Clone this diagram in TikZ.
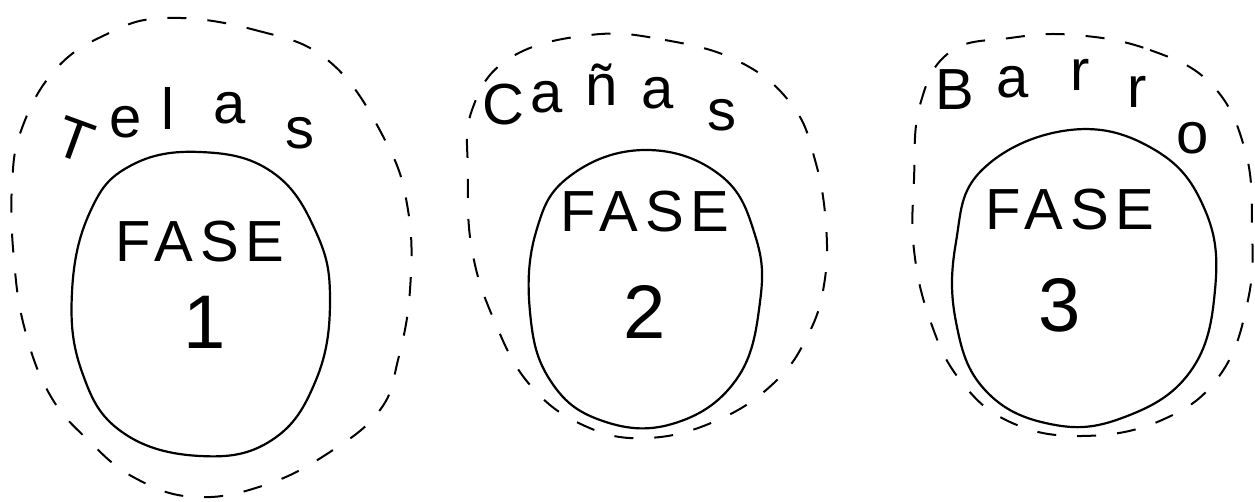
\documentclass[tikz,border=0pt]{standalone}
\usepackage{fontspec}
\setmainfont{Liberation Sans}

\begin{document}
\begin{tikzpicture}[x=0.5pt, y=-0.5pt,
    phase/.style={line width=1.1pt},
    zone/.style={line width=1pt, dash pattern=on 9.5pt off 10.5pt},
    letter/.style={font=\fontsize{29}{34}\selectfont},
    phaseword/.style={font=\fontsize{29}{34}\selectfont\addfontfeature{LetterSpace=12}},
    phasenum/.style={font=\fontsize{38}{44}\selectfont}]
  \useasboundingbox (0,0) rectangle (1255,502);

  % outer dashed zones
  \draw[zone] plot[smooth cycle, tension=0.7] coordinates {
    (165,18) (255,30) (330,62) (385,140) (408,210) (410,290) (398,360)
    (380,410) (330,452) (265,485) (195,497) (135,478) (88,440) (50,395)
    (25,330) (14,260) (12,185) (22,128) (55,70) (105,35)};
  \draw[zone] plot[smooth cycle, tension=0.7] coordinates {
    (590,35) (665,40) (740,62) (792,105) (815,160) (826,225) (824,285)
    (808,335) (775,382) (718,420) (648,438) (585,426) (530,385) (494,320)
    (472,250) (468,175) (472,110) (510,58)};
  \draw[zone] plot[smooth cycle, tension=0.7] coordinates {
    (1075,35) (1150,50) (1212,85) (1245,150) (1252,225) (1248,300)
    (1220,375) (1162,420) (1082,436) (1010,422) (960,380) (930,320)
    (914,250) (914,180) (920,105) (950,52) (1010,38)};

  % phases
  \draw[phase] plot[smooth cycle, tension=0.7] coordinates {
    (200,152) (272,172) (316,232) (330,300) (316,380) (272,440) (200,456)
    (122,432) (82,372) (72,292) (90,212) (130,166)};
  \draw[phase] plot[smooth cycle, tension=0.7] coordinates {
    (645,150) (720,175) (755,235) (760,302) (736,380) (672,424) (600,420)
    (550,380) (530,312) (536,232) (570,176)};
  \draw[phase] plot[smooth cycle, tension=0.7] coordinates {
    (1070,130) (1155,150) (1205,210) (1215,290) (1190,372) (1122,418)
    (1050,424) (985,390) (956,322) (956,242) (982,170)};

  \node[phaseword] (fase1) at (200,242) {FASE};
  \node[phasenum] (num1) at (205,322) {1};
  \node[phaseword] (fase2) at (645,212) {FASE};
  \node[phasenum] (num2) at (645,312) {2};
  \node[phaseword] (fase3) at (1070,210) {FASE};
  \node[phasenum] (num3) at (1060,305) {3};

  % labels, one letter at a time
  \foreach \ch/\x/\y/\r [count=\i] in {T/75/140/-20, e/126/122/0, l/168/108/0,
      a/230/108/0, s/300/133/0}
    \node[letter, rotate=\r] (telas\i) at (\x,\y) {\ch};
  \foreach \ch/\x/\y/\r [count=\i] in {C/503/105/0, a/547/97/0, ñ/602/85/0,
      a/658/93/0, s/722/115/0}
    \node[letter, rotate=\r] (canas\i) at (\x,\y) {\ch};
  \foreach \ch/\x/\y/\r [count=\i] in {B/955/90/0, a/1013/82/0, r/1080/75/0,
      r/1137/92/0, o/1193/138/0}
    \node[letter, rotate=\r] (barro\i) at (\x,\y) {\ch};
\end{tikzpicture}
\end{document}
